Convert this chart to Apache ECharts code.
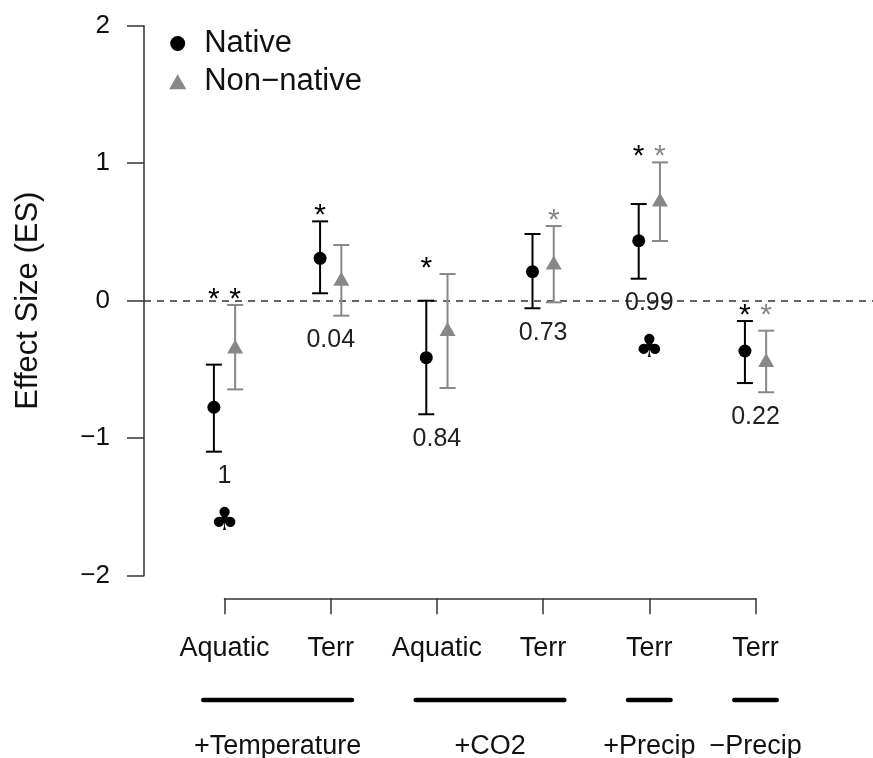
<!DOCTYPE html>
<html>
<head>
<meta charset="utf-8">
<script src="https://cdn.jsdelivr.net/npm/echarts@6/dist/echarts.min.js"></script>
<style>
html,body{margin:0;padding:0;background:#fff;}
#chart{width:873px;height:758px;}
</style>
</head>
<body>
<div id="chart"></div>
<script>
// ---- data ----
const categories = ['Aquatic', 'Terr', 'Aquatic', 'Terr', 'Terr', 'Terr'];
const nativeMean = [-0.775, 0.308, -0.414, 0.211, 0.436, -0.366];
const nativeLow  = [-1.098, 0.054, -0.826, -0.055, 0.160, -0.599];
const nativeHigh = [-0.465, 0.577, 0.000, 0.485, 0.703, -0.148];
const nonNativeMean = [-0.333, 0.160, -0.206, 0.278, 0.736, -0.431];
const nonNativeLow  = [-0.645, -0.109, -0.635, -0.012, 0.434, -0.666];
const nonNativeHigh = [-0.031, 0.405, 0.194, 0.543, 1.006, -0.218];
const pLabels = ['1', '0.04', '0.84', '0.73', '0.99', '0.22'];
const clubMarks = [true, false, false, false, true, false];
const nativeStarColor = ['#000', '#000', '#000', null, '#000', '#000'];
const nonNativeStarColor = ['#000', null, null, '#888', '#888', '#888'];
const groupNames = ['+Temperature', '+CO2', '+Precip', '\u2212Precip'];
const groupFirst = [1, 3, 5, 6];
const groupLast = [2, 4, 5, 6];
const yTicks = [-2, -1, 0, 1, 2];
const seriesNames = ['Native', 'Non\u2212native'];

// ---- style / layout ----
const FONT = '"Liberation Sans", Arial, Helvetica, sans-serif';
const DODGE = 0.1;
const AXIS_COLOR = '#333';
const NATIVE_COLOR = '#000';
const NON_COLOR = '#888';
const TEXT_COLOR = '#111';
const STAR_GAP = 0.09;
const P_GAP = 0.18;
const CLUB_GAP = 0.33;
const GROUP_BAR_Y = 700;
const GROUP_LABEL_Y = 747;
const GROUP_PAD = 0.2;

const chart = echarts.init(document.getElementById('chart'), null, {renderer: 'canvas'});

function errorBarSeries(name, means, lows, highs, color, offset) {
  return {
    name: name + ' err',
    type: 'custom',
    xAxisIndex: 0, yAxisIndex: 0,
    silent: true,
    z: 3,
    data: means.map((m, i) => [i + 1 + offset, lows[i], highs[i]]),
    encode: {x: 0, y: [1, 2]},
    renderItem: function (params, api) {
      const x = api.value(0);
      const top = api.coord([x, api.value(2)]);
      const bot = api.coord([x, api.value(1)]);
      const hw = 8;
      const st = {stroke: color, lineWidth: 2};
      return {
        type: 'group',
        children: [
          {type: 'line', shape: {x1: top[0], y1: top[1], x2: bot[0], y2: bot[1]}, style: st},
          {type: 'line', shape: {x1: top[0] - hw, y1: top[1], x2: top[0] + hw, y2: top[1]}, style: st},
          {type: 'line', shape: {x1: bot[0] - hw, y1: bot[1], x2: bot[0] + hw, y2: bot[1]}, style: st}
        ]
      };
    }
  };
}

const option = {
  animation: false,
  backgroundColor: '#fff',
  textStyle: {fontFamily: FONT},
  grid: [
    {left: 144, right: 0, top: 25.7, height: 550, containLabel: false},
    {left: 224.5, right: 117.5, top: 590, height: 8.3, containLabel: false}
  ],
  legend: {
    orient: 'vertical',
    left: 164.2,
    top: 23,
    itemWidth: 17,
    itemHeight: 15,
    itemGap: 7.3,
    data: seriesNames,
    formatter: name => '{t|' + name + '}',
    textStyle: {
      fontSize: 31, color: TEXT_COLOR, fontFamily: FONT,
      rich: {t: {fontSize: 31, lineHeight: 30, color: TEXT_COLOR, fontFamily: FONT, padding: [0, 0, 0, 13]}}
    },
    selectedMode: false
  },
  xAxis: [
    {gridIndex: 0, type: 'value', min: 0.242, max: 7.106, show: false},
    {
      gridIndex: 1, type: 'value', min: 1, max: 6, interval: 1, position: 'bottom',
      axisLine: {show: true, onZero: false, lineStyle: {color: AXIS_COLOR, width: 1.5}},
      axisTick: {show: true, length: 16, lineStyle: {color: AXIS_COLOR, width: 1.5}},
      splitLine: {show: false},
      axisLabel: {
        fontSize: 27, color: TEXT_COLOR, fontFamily: FONT, margin: 50.5, verticalAlign: 'middle',
        formatter: v => categories[Math.round(v) - 1] || ''
      }
    }
  ],
  yAxis: [
    {
      gridIndex: 0, type: 'value', min: yTicks[0], max: yTicks[yTicks.length - 1], interval: 1,
      axisLine: {show: true, lineStyle: {color: AXIS_COLOR, width: 1.5}},
      axisTick: {show: true, length: 17, lineStyle: {color: AXIS_COLOR, width: 1.5}},
      splitLine: {show: false},
      axisLabel: {
        fontSize: 26, color: TEXT_COLOR, fontFamily: FONT, margin: 34,
        formatter: v => (v < 0 ? '\u2212' + Math.abs(v) : String(v))
      },
      name: 'Effect Size (ES)',
      nameLocation: 'middle',
      nameGap: 100,
      nameTextStyle: {fontSize: 31, color: TEXT_COLOR, fontFamily: FONT}
    },
    {gridIndex: 1, type: 'value', min: 0, max: 1, show: false}
  ],
  series: [
    {
      name: seriesNames[0],
      type: 'scatter',
      xAxisIndex: 0, yAxisIndex: 0,
      symbol: 'circle',
      symbolSize: 13,
      z: 5,
      itemStyle: {color: NATIVE_COLOR, opacity: 1},
      data: nativeMean.map((m, i) => [i + 1 - DODGE, m]),
      markLine: {
        silent: true,
        symbol: ['none', 'none'],
        label: {show: false},
        lineStyle: {type: [7, 6], color: AXIS_COLOR, width: 1.5},
        data: [{yAxis: 0}],
        z: 1
      }
    },
    {
      name: seriesNames[1],
      type: 'scatter',
      xAxisIndex: 0, yAxisIndex: 0,
      symbol: 'triangle',
      symbolSize: [16, 14],
      z: 5,
      itemStyle: {color: NON_COLOR, opacity: 1},
      data: nonNativeMean.map((m, i) => [i + 1 + DODGE, m])
    },
    errorBarSeries('Native', nativeMean, nativeLow, nativeHigh, NATIVE_COLOR, -DODGE),
    errorBarSeries('Non-native', nonNativeMean, nonNativeLow, nonNativeHigh, NON_COLOR, DODGE),
    {
      name: 'annotations',
      type: 'custom',
      xAxisIndex: 0, yAxisIndex: 0,
      silent: true,
      z: 6,
      data: categories.map((c, i) => [i + 1, nativeMean[i]]),
      encode: {x: 0, y: 1},
      renderItem: function (params, api) {
        const i = params.dataIndex;
        const x = api.value(0);
        const children = [];
        const maxHigh = Math.max(nativeHigh[i], nonNativeHigh[i]);
        const minLow = Math.min(nativeLow[i], nonNativeLow[i]);
        const starFont = '30px ' + FONT;
        if (nativeStarColor[i]) {
          const p = api.coord([x - DODGE, maxHigh + STAR_GAP]);
          children.push({type: 'text', style: {text: '*', x: p[0], y: p[1] + 7, fill: nativeStarColor[i], font: starFont, align: 'center', verticalAlign: 'middle'}});
        }
        if (nonNativeStarColor[i]) {
          const p = api.coord([x + DODGE, maxHigh + STAR_GAP]);
          children.push({type: 'text', style: {text: '*', x: p[0], y: p[1] + 7, fill: nonNativeStarColor[i], font: starFont, align: 'center', verticalAlign: 'middle'}});
        }
        const pp = api.coord([x, minLow - P_GAP]);
        children.push({type: 'text', style: {text: pLabels[i], x: pp[0], y: pp[1], fill: '#222', font: '25px ' + FONT, align: 'center', verticalAlign: 'middle'}});
        if (clubMarks[i]) {
          const cp = api.coord([x, minLow - P_GAP - CLUB_GAP]);
          children.push({type: 'text', style: {text: '\u2663', x: cp[0], y: cp[1], fill: '#000', font: '32px "DejaVu Sans", sans-serif', align: 'center', verticalAlign: 'middle'}});
        }
        return {type: 'group', children: children};
      }
    },
    {
      name: 'groups',
      type: 'custom',
      xAxisIndex: 0, yAxisIndex: 0,
      silent: true,
      clip: false,
      z: 6,
      data: groupNames.map((g, i) => [groupFirst[i], groupLast[i]]),
      encode: {x: [0, 1]},
      renderItem: function (params, api) {
        const i = params.dataIndex;
        const a = api.coord([api.value(0) - GROUP_PAD, 0])[0];
        const b = api.coord([api.value(1) + GROUP_PAD, 0])[0];
        const c = api.coord([(api.value(0) + api.value(1)) / 2, 0])[0];
        return {
          type: 'group',
          children: [
            {type: 'line', shape: {x1: a, y1: GROUP_BAR_Y, x2: b, y2: GROUP_BAR_Y}, style: {stroke: '#000', lineWidth: 4.5, lineCap: 'round'}},
            {type: 'text', style: {text: groupNames[i], x: c, y: GROUP_LABEL_Y, fill: TEXT_COLOR, font: '27px ' + FONT, align: 'center', verticalAlign: 'middle'}}
          ]
        };
      }
    }
  ]
};

chart.setOption(option);
</script>
</body>
</html>
